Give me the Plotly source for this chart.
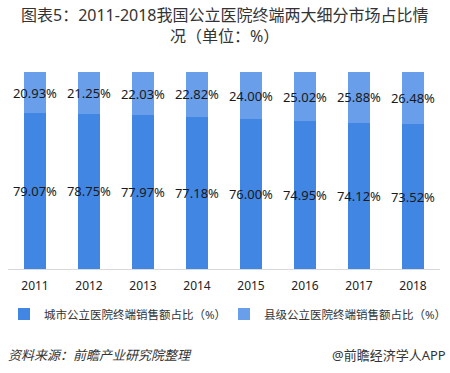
import plotly.graph_objects as go

years = ["2011", "2012", "2013", "2014", "2015", "2016", "2017", "2018"]
city_share = [79.07, 78.75, 77.97, 77.18, 76.00, 74.95, 74.12, 73.52]
county_share = [20.93, 21.25, 22.03, 22.82, 24.00, 25.02, 25.88, 26.48]
series_names = ["城市公立医院终端销售额占比（%）", "县级公立医院终端销售额占比（%）"]
title_lines = ["图表5：2011-2018我国公立医院终端两大细分市场占比情", "况（单位：%）"]

font_main = "Noto Sans, Noto Sans CJK SC, Microsoft YaHei, sans-serif"

fig = go.Figure()
for vals, name, col in [(city_share, series_names[0], "rgb(65,134,227)"),
                        (county_share, series_names[1], "rgb(104,158,234)")]:
    fig.add_trace(go.Bar(
        x=years, y=vals, name=name,
        marker=dict(color=col, line=dict(width=0)),
        text=[f"{v:.2f}%" for v in vals], textposition="inside",
        insidetextanchor="middle", textangle=0, constraintext="none",
        textfont=dict(size=13, color="#1a1a1a", family=font_main),
        cliponaxis=False,
    ))

H = 197.0
W = 432.0
def py(ypx):
    return (269 - ypx) / H
def px(xpx):
    return (xpx - 8) / W

fig.update_layout(
    width=450, height=373,
    barmode="stack", bargap=0.59,
    margin=dict(l=8, r=10, t=72, b=104, pad=0, autoexpand=False),
    paper_bgcolor="white", plot_bgcolor="white",
    font=dict(family=font_main, color="#333333", size=12),
    xaxis=dict(
        showline=True, linecolor="#d9d9d9", linewidth=1,
        ticks="", tickfont=dict(size=12, color="#222222", family=font_main),
        ticklabelstandoff=6,
        showgrid=False, fixedrange=True,
    ),
    yaxis=dict(range=[0, 100], visible=False, showgrid=False, fixedrange=True),
    legend=dict(
        orientation="h", x=px(4), xanchor="left", y=py(314), yanchor="middle",
        font=dict(size=11.5, color="#333333"),
        entrywidthmode="fraction", entrywidth=0.5,
        traceorder="normal",
    ),
    showlegend=True,
    annotations=[
        dict(text=title_lines[0],
             xref="paper", yref="paper", x=px(225), y=py(14.5), xanchor="center",
             yanchor="middle", showarrow=False, borderpad=0,
             font=dict(size=16, color="#333333")),
        dict(text=title_lines[1],
             xref="paper", yref="paper", x=px(224), y=py(35.5), xanchor="center",
             yanchor="middle", showarrow=False, borderpad=0,
             font=dict(size=16, color="#333333")),
        dict(text="<i>资料来源：前瞻产业研究院整理</i>", xref="paper", yref="paper",
             x=px(6), y=py(355), xanchor="left", yanchor="middle", showarrow=False,
             font=dict(size=13, color="#333333")),
        dict(text="@前瞻经济学人APP", xref="paper", yref="paper",
             x=px(448), y=py(355), xanchor="right", yanchor="middle",
             showarrow=False, font=dict(size=13, color="#333333")),
    ],
)

fig.write_html("out.html", config={"displayModeBar": False},
               post_script="document.body.style.margin='0';document.body.style.padding='0';")
